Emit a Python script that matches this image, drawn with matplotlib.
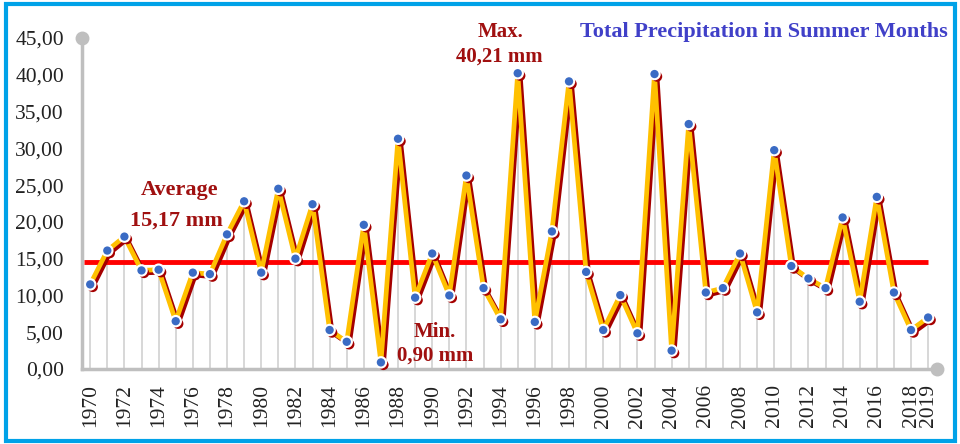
import matplotlib
matplotlib.use("Agg")
import matplotlib.pyplot as plt
import matplotlib.patheffects as pe
from matplotlib.patches import Rectangle

years = list(range(1970, 2020))
precip = [11.5, 16.1, 18.0, 13.4, 13.5, 6.5, 13.1, 12.9, 18.3, 22.8,
          13.1, 24.5, 15.0, 22.4, 5.3, 3.7, 19.6, 0.9, 31.3, 9.7,
          15.7, 10.0, 26.3, 11.0, 6.75, 40.21, 6.4, 18.7, 39.1, 13.2,
          5.3, 10.05, 4.85, 40.1, 2.5, 33.3, 10.4, 11.0, 15.7, 7.7,
          29.75, 14.0, 12.3, 11.0, 20.6, 9.15, 23.4, 10.4, 5.3, 7.0]
avg_line = 14.5
yticks = [0, 5, 10, 15, 20, 25, 30, 35, 40, 45]
xticks = list(range(1970, 2019, 2)) + [2019]
title = "Total Precipitation in Summer Months"

plt.rcParams['font.family'] = ['Liberation Serif', 'DejaVu Serif']

fig = plt.figure(figsize=(9.6, 4.44), dpi=100)
ax = fig.add_axes([82/960, 75/444, 855/960, 331/444])
ax.set_xlim(1969.52, 2019.52)
ax.set_ylim(0, 45)

for s in ['top', 'right']:
    ax.spines[s].set_visible(False)
for s in ['left', 'bottom']:
    ax.spines[s].set_color('#BFBFBF')
    ax.spines[s].set_linewidth(2.5)
    ax.spines[s].set_zorder(1)

# end circles on axes
ax.plot([1969.52], [45], 'o', color='#BFBFBF', ms=9, clip_on=False, zorder=2)
ax.plot([2019.52], [0], 'o', color='#BFBFBF', ms=9, clip_on=False, zorder=2)

# drop lines
ax.vlines(years, 0, precip, color='#D4D4D4', lw=1.3, zorder=1)

# average line
ax.plot([1969.62, 2019], [avg_line, avg_line], color='#FF0000', lw=3.5, zorder=4,
        solid_capstyle='butt')

# main line with shadow
shadow = [pe.SimpleLineShadow(offset=(1.8, -1.8), shadow_color='#A50000', alpha=1.0),
          pe.Normal()]
ax.plot(years, precip, color='#FFC000', lw=3.4, zorder=5, path_effects=shadow,
        solid_joinstyle='round', solid_capstyle='round')
ax.plot(years, precip, 'o', ms=7.5, mfc='#3A6BC4', mec='white', mew=1.5,
        zorder=6, clip_on=False,
        path_effects=[pe.SimplePatchShadow(offset=(1.8, -1.8), shadow_rgbFace='#A50000', alpha=1.0),
                      pe.Normal()])

ax.set_yticks(yticks)
ax.set_yticklabels([f"{v:.2f}".replace('.', ',') for v in yticks], fontsize=15.5)
ax.set_xticks(xticks)
ax.set_xticklabels([str(x) for x in xticks], rotation=90, fontsize=15.5)
ax.tick_params(axis='y', length=0, pad=13, colors='#222222')
ax.tick_params(axis='x', length=0, pad=11, colors='#222222')

red = '#A01010'
def ftext(x, y, s, size=15, **kw):
    fig.text(x/960, 1 - y/444, s, fontweight='bold', ha='center', va='center',
             fontsize=size, **kw)

ftext(500, 32, "Max.", color=red)
ftext(499, 57, "40,21 mm", color=red)
ftext(180, 190, "Average", color=red, size=16)
ftext(176, 221, "15,17 mm", color=red, size=16)
ftext(435, 332, "Min.", color=red)
ftext(435, 356, "0,90 mm", color=red)
fig.text(948/960, 1 - 32/444, title, color='#4040C8', fontweight='bold',
         ha='right', va='center', fontsize=16)

fig.patches.append(Rectangle((6/960, 3/444), 949/960, 437/444, transform=fig.transFigure,
                             fill=False, edgecolor='#00A2E8', lw=3))

fig.savefig('out.png', dpi=100)
